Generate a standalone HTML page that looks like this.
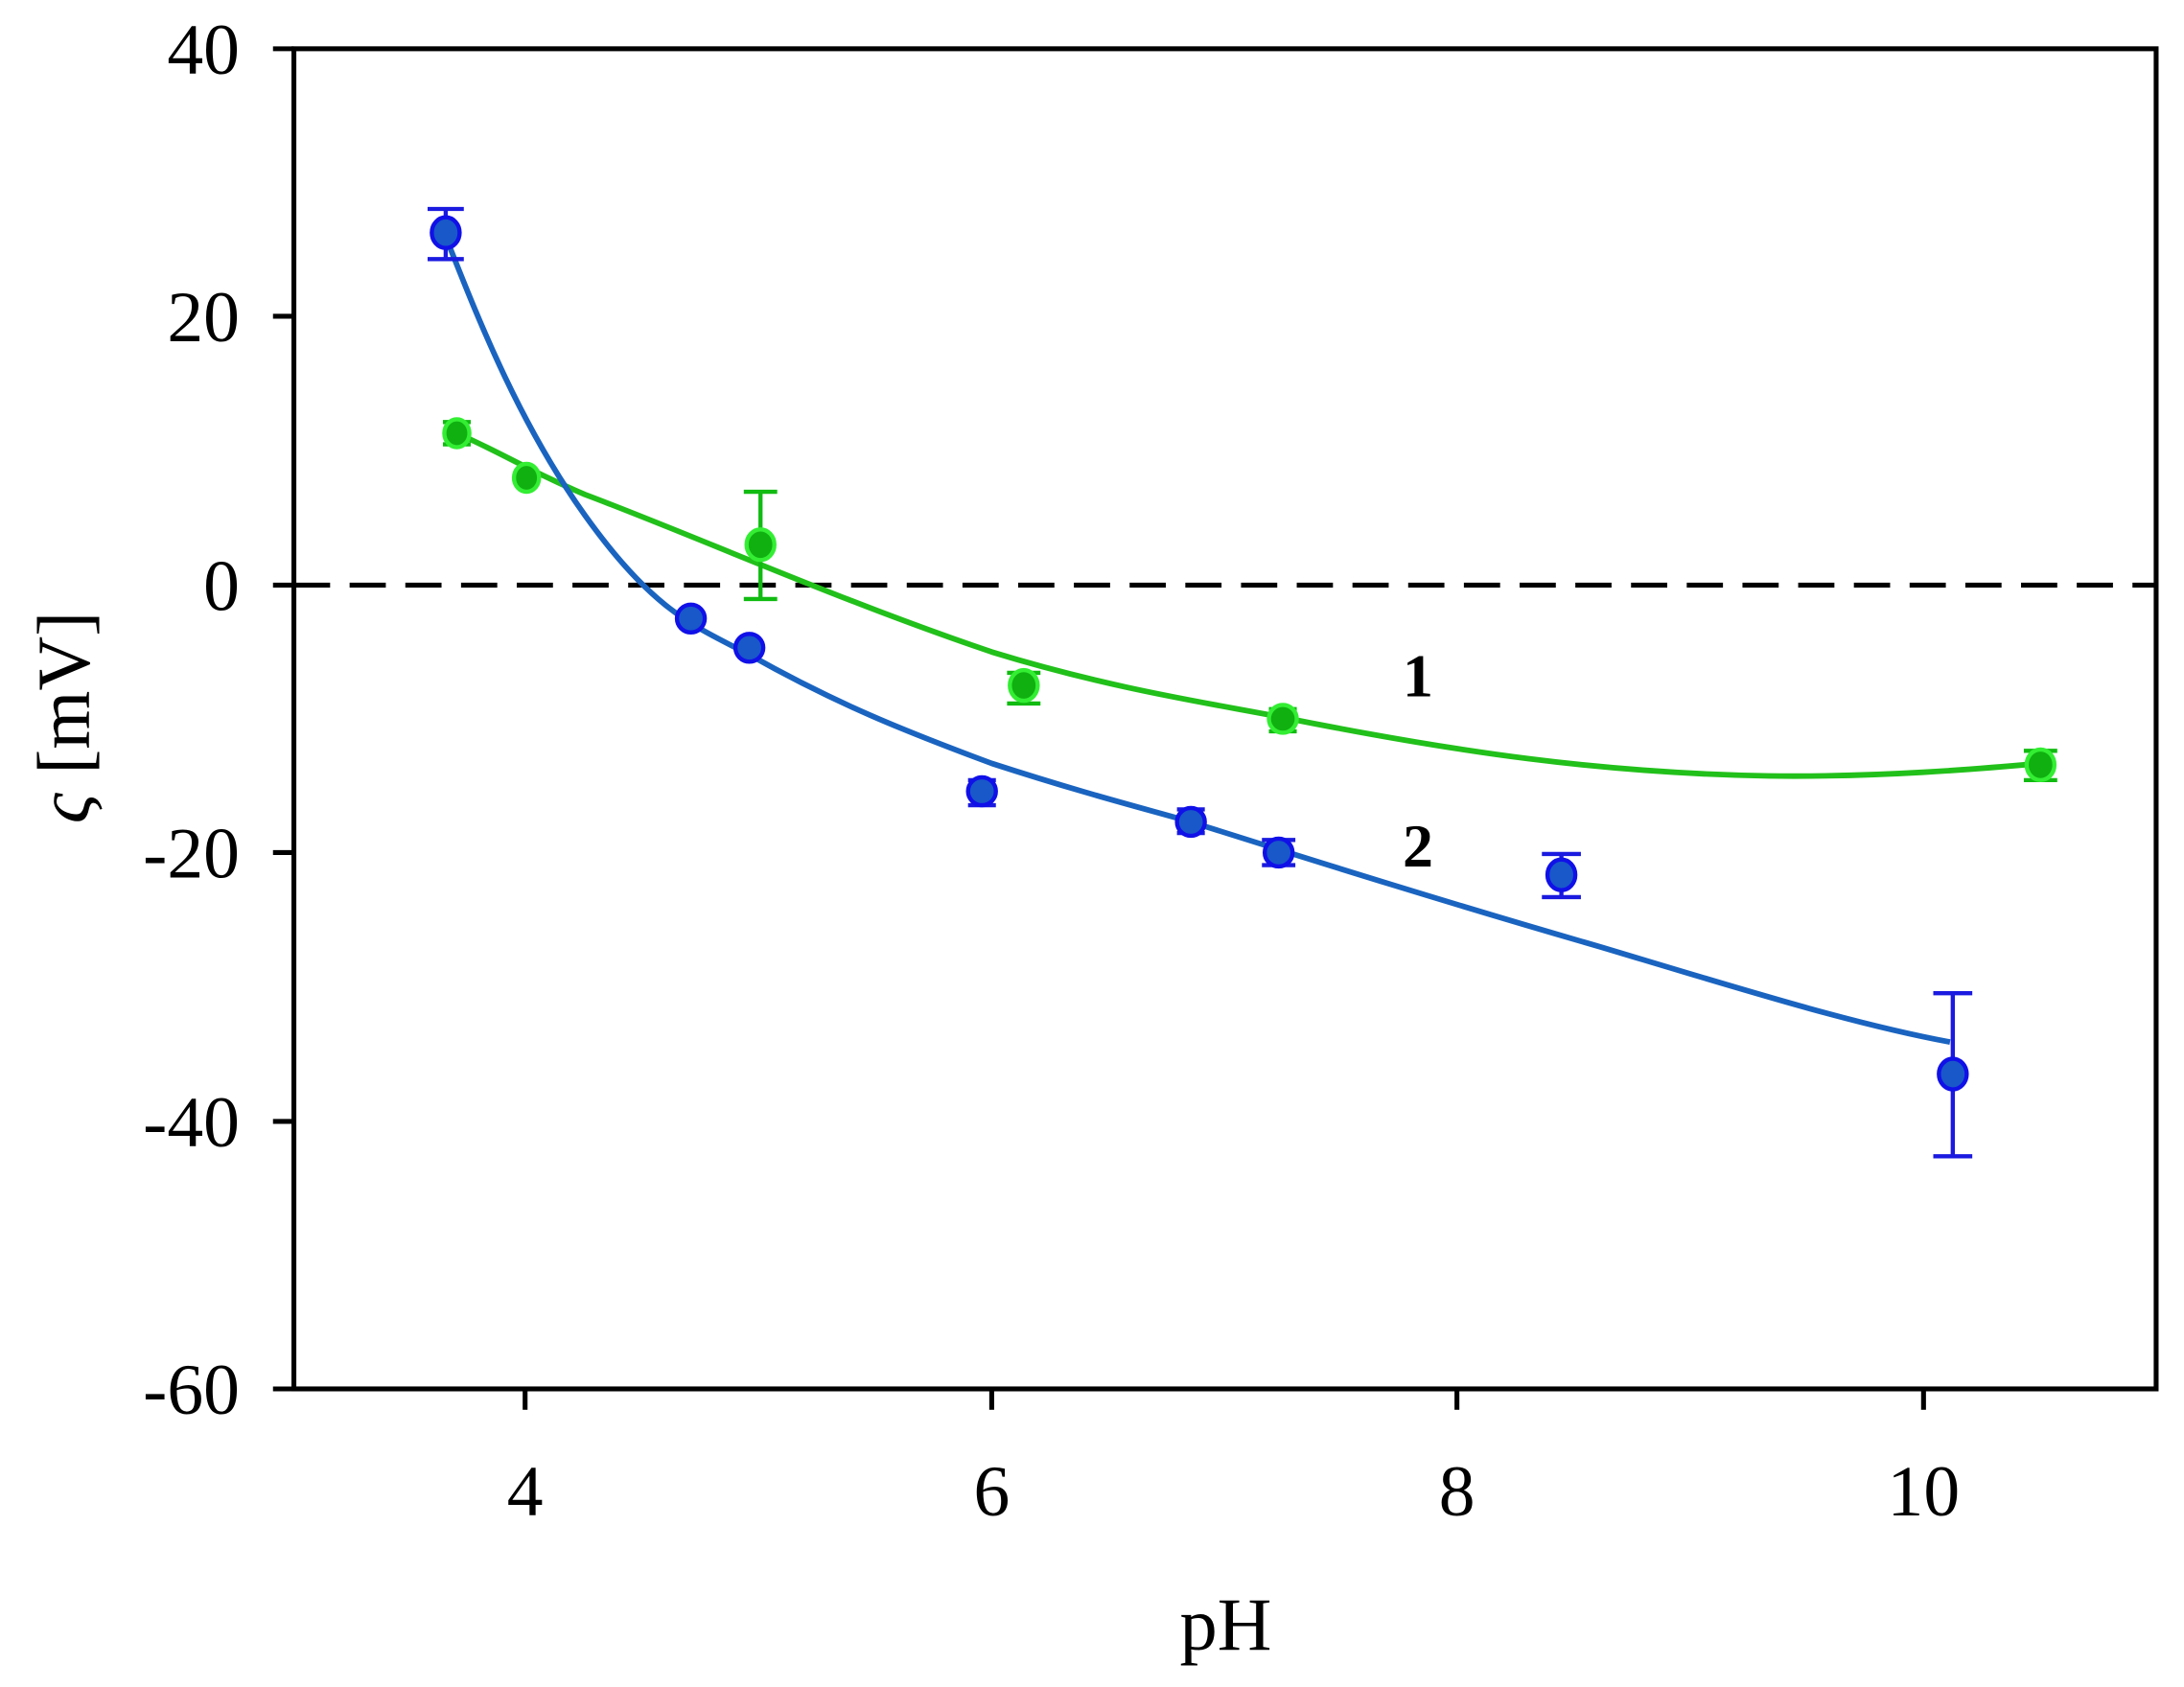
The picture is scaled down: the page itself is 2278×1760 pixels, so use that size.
<!DOCTYPE html>
<html><head><style>html,body{margin:0;padding:0;background:#fff}svg{display:block}text{font-family:"Liberation Serif","Times New Roman",serif}</style></head>
<body>
<svg width="2278" height="1760" viewBox="0 0 1568 1211" preserveAspectRatio="none" xmlns="http://www.w3.org/2000/svg">
<rect x="0" y="0" width="1568" height="1211" fill="#fff"/>
<rect x="211" y="35" width="1337" height="962" fill="none" stroke="#000" stroke-width="3.5"/>
<g stroke="#000" stroke-width="3.5">
<line x1="196" y1="35" x2="211" y2="35"/><line x1="196" y1="227" x2="211" y2="227"/><line x1="196" y1="420" x2="211" y2="420"/><line x1="196" y1="612" x2="211" y2="612"/><line x1="196" y1="805" x2="211" y2="805"/><line x1="196" y1="997" x2="211" y2="997"/>
<line x1="377" y1="997" x2="377" y2="1012"/><line x1="712" y1="997" x2="712" y2="1012"/><line x1="1046" y1="997" x2="1046" y2="1012"/><line x1="1381" y1="997" x2="1381" y2="1012"/>
</g>
<g font-size="52" text-anchor="end" fill="#000">
<text x="172" y="53">40</text><text x="172" y="245">20</text><text x="172" y="438">0</text><text x="172" y="630">-20</text><text x="172" y="823">-40</text><text x="172" y="1015">-60</text>
</g>
<g font-size="52" text-anchor="middle" fill="#000">
<text x="377" y="1088">4</text><text x="712" y="1088">6</text><text x="1046" y="1088">8</text><text x="1381" y="1088">10</text>
<text x="880" y="1184" font-size="54">pH</text>
</g>
<text transform="translate(64,515) rotate(-90)" font-size="54" text-anchor="middle" fill="#000"><tspan font-style="italic">ς</tspan> [mV]</text>
<line x1="211" y1="420" x2="1548" y2="420" stroke="#000" stroke-width="3.5" stroke-dasharray="26,14"/>
<path d="M328,311 C360,325 380,338 420,355 C500,385 600,430 712,468 C800,495 870,505 921,515 C1046,540 1150,555 1270,557 C1350,558 1420,552 1465,548" fill="none" stroke="#22c01a" stroke-width="4"/>
<path d="M320,170 C340,220 370,300 420,370 C470,440 500,450 538,470 C600,505 650,525 712,548 C780,570 820,580 855,590 C950,620 1046,650 1150,680 C1250,710 1330,735 1400,748" fill="none" stroke="#1a64c0" stroke-width="4"/>
<g stroke="#11bb11" stroke-width="3" fill="none">
<path d="M328,303V319M318,303H338M318,319H338"/>
<path d="M546,353V430M534,353H558M534,430H558"/>
<path d="M735,483V505M723,483H747M723,505H747"/>
<path d="M921,509V525M911,509H931M911,525H931"/>
<path d="M1465,539V560M1453,539H1477M1453,560H1477"/>
</g>
<g fill="#10b010" stroke="#33ee33" stroke-width="3">
<ellipse cx="328" cy="311" rx="9" ry="10"/><ellipse cx="378" cy="343" rx="9" ry="10"/><ellipse cx="546" cy="391" rx="10" ry="11"/><ellipse cx="735" cy="492" rx="10" ry="11"/><ellipse cx="921" cy="516" rx="10" ry="10"/><ellipse cx="1465" cy="549" rx="10" ry="11"/>
</g>
<g stroke="#1a1ae0" stroke-width="3" fill="none">
<path d="M320,150V186M307,150H333M307,186H333"/>
<path d="M705,560V578M695,560H715M695,578H715"/>
<path d="M855,581V598M845,581H865M845,598H865"/>
<path d="M918,603V621M906,603H930M906,621H930"/>
<path d="M1121,613V644M1107,613H1135M1107,644H1135"/>
<path d="M1402,713V830M1388,713H1416M1388,830H1416"/>
</g>
<g fill="#1858c8" stroke="#1010e8" stroke-width="3">
<ellipse cx="320" cy="167" rx="10" ry="11"/><ellipse cx="496" cy="444" rx="10" ry="10"/><ellipse cx="538" cy="465" rx="10" ry="10"/><ellipse cx="705" cy="568" rx="10" ry="10"/><ellipse cx="855" cy="590" rx="10" ry="10"/><ellipse cx="918" cy="612" rx="10" ry="10"/><ellipse cx="1121" cy="628" rx="10" ry="11"/><ellipse cx="1402" cy="771" rx="10" ry="11"/>
</g>
<g font-size="44" font-weight="bold" text-anchor="middle" fill="#000">
<text x="1018" y="500">1</text><text x="1018" y="622">2</text>
</g>
</svg>
</body></html>
